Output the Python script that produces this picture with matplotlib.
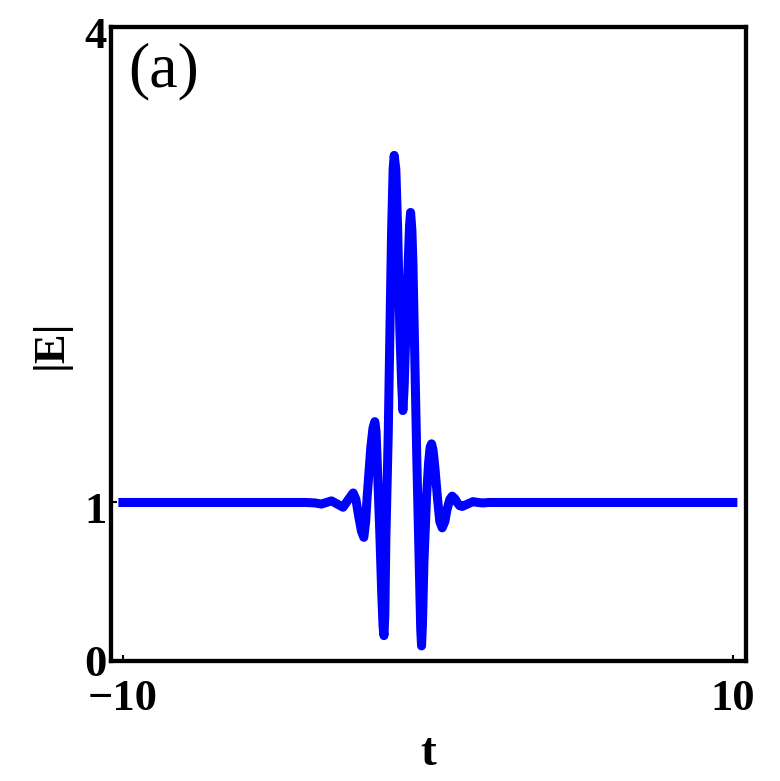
# plot.py
# |E| versus t, panel (a)

import numpy as np
from matplotlib import pyplot as plt
import matplotlib.transforms as mtransforms

# values
t = [-10.0, -4.0, -3.7, -3.49, -3.33, -3.16, -2.97, -2.78, -2.62, -2.45,
     -2.36, -2.275, -2.18, -2.10, -2.04, -1.99, -1.87, -1.80, -1.74, -1.70,
     -1.66, -1.58, -1.51, -1.47, -1.44, -1.41, -1.377, -1.30, -1.246, -1.19,
     -1.14, -1.105, -1.05, -0.99, -0.92, -0.86, -0.82, -0.78, -0.72, -0.646,
     -0.60, -0.567, -0.525, -0.49, -0.426, -0.36, -0.285, -0.235, -0.207, -0.175,
     -0.13, -0.043, 0.023, 0.075, 0.121, 0.17, 0.23, 0.318, 0.39, 0.469,
     0.557, 0.62, 0.72, 0.797, 0.88, 0.96, 1.04, 1.125, 1.30, 1.475,
     1.65, 1.80, 2.0, 10.0]
E = [1.0, 1.0, 0.997, 0.99, 1.0, 1.01, 0.99, 0.97, 1.015, 1.06,
     1.02, 0.92, 0.82, 0.78, 0.88, 1.04, 1.35, 1.47, 1.51, 1.45,
     1.25, 0.83, 0.41, 0.22, 0.16, 0.30, 0.78, 1.43, 2.07, 2.71,
     3.10, 3.19, 3.10, 2.72, 2.09, 1.75, 1.58, 1.72, 2.09, 2.51,
     2.75, 2.83, 2.72, 2.51, 1.88, 1.25, 0.62, 0.20, 0.095, 0.25,
     0.62, 1.04, 1.25, 1.35, 1.37, 1.33, 1.22, 1.02, 0.88, 0.84,
     0.88, 0.95, 1.02, 1.04, 1.025, 1.0, 0.98, 0.975, 0.99, 1.005,
     1.0, 0.997, 1.0, 1.0]

xticks = [-10, 10]
xticklabels = ['\u221210', '10']
yticks = [0, 1, 4]
yticklabels = ['0', '1', '4']

fnt = 'Liberation Serif'

fig = plt.figure(figsize=(7.8, 7.81), dpi=100)
ax = fig.add_axes([0.1423, 0.1537, 0.8141, 0.8117])

ax.plot(t, E, color='#0000ff', linewidth=6.5, solid_joinstyle='round')

ax.set_xlim(-10.39, 10.43)
ax.set_ylim(0, 4)

ax.set_xticks(xticks)
ax.set_xticklabels(xticklabels)
ax.set_yticks(yticks)
ax.set_yticklabels(yticklabels)
ax.tick_params(direction='in', length=4, width=1.5, labelsize=32)
ax.tick_params(axis='x', pad=13)
ax.tick_params(axis='y', pad=3)
for lab in ax.get_xticklabels() + ax.get_yticklabels():
    lab.set_fontfamily(fnt)
    lab.set_fontweight('bold')
# y labels 1 and 4 sit a little below their ticks in the reference
off = mtransforms.ScaledTranslation(0, -5/100, fig.dpi_scale_trans)
for lab in ax.get_yticklabels()[1:]:
    lab.set_transform(lab.get_transform() + off)

for s in ax.spines.values():
    s.set_linewidth(3.1)

ax.set_xlabel('t', fontsize=34, fontfamily=fnt, fontweight='bold', labelpad=10)
ax.set_ylabel('|E|', fontsize=32, fontfamily=fnt, fontweight='bold', labelpad=10)

ax.text(0.027, 0.975, '(a)', transform=ax.transAxes, fontsize=46,
        fontfamily=fnt, va='top', ha='left')

plt.savefig('out.png', dpi=100)
